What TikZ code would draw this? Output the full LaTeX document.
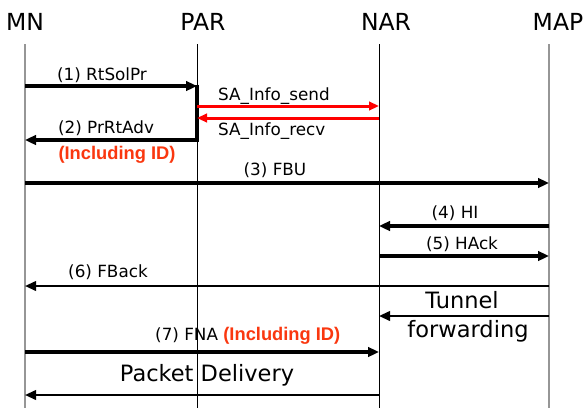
\documentclass[tikz,border=0pt]{standalone}
\usepackage{fontspec}
\setmainfont{DejaVu Sans}
\newfontfamily\idfont{Liberation Sans}
\usetikzlibrary{arrows.meta}
\definecolor{lred}{RGB}{255,0,0}
\definecolor{tred}{RGB}{250,55,15}
\definecolor{lgray}{RGB}{150,150,150}
\newcommand{\redid}{{\idfont\fontsize{18.3}{18}\selectfont\bfseries\textcolor{tred}{(Including ID)}}}
\begin{document}
\begin{tikzpicture}[x=1pt,y=-1pt,
  title/.style={font=\fontsize{23.5}{24}\selectfont,inner sep=0pt,anchor=base},
  lbl/.style={font=\fontsize{16.8}{17}\selectfont,inner sep=0pt,anchor=base},
  big/.style={font=\fontsize{22.5}{23}\selectfont,inner sep=0pt,anchor=base},
  life/.style={line width=1pt,black},
  glife/.style={line width=1.6pt,lgray},
  thk/.style={line width=3.2pt,-{Triangle[length=11pt,width=9.5pt]}},
  thn/.style={line width=2.2pt,-{Triangle[length=11pt,width=9.5pt]}},
  redarr/.style={line width=3pt,lred,-{Triangle[length=10pt,width=8.5pt]}}]
\useasboundingbox (0,0) rectangle (584,408);
\fill[white] (0,0) rectangle (584,408);
% lifeline positions
\coordinate (MN) at (25,0);
\coordinate (PAR) at (197,0);
\coordinate (NAR) at (379,0);
\coordinate (MAP) at (549,0);
% titles
\node[title] (tMN) at (25,30) {MN};
\node[title] (tPAR) at (203,30) {PAR};
\node[title] (tNAR) at (386,30) {NAR};
\node[title] (tMAP) at (558,30) {MAP};
% lifelines
\draw[glife] (MN|-0,44) -- (MN|-0,408);
\draw[life] (PAR|-0,44) -- (PAR|-0,408);
\draw[life] (NAR|-0,44) -- (NAR|-0,408);
\draw[glife] (MAP|-0,44) -- (MAP|-0,408);
% (1)
\draw[thk] (MN|-0,86) -- (PAR|-0,86);
\node[lbl] (l1) at (102,80) {(1) RtSolPr};
\draw[line width=3.2pt] (PAR|-0,84.5) -- (PAR|-0,141.5);
% SA info
\draw[redarr] (PAR|-0,106) -- (NAR|-0,106);
\node[lbl,anchor=base west] (lsend) at (218,100) {SA\_Info\_send};
\draw[redarr] (NAR|-0,118) -- (PAR|-0,118);
\node[lbl,anchor=base west] (lrecv) at (218,135) {SA\_Info\_recv};
% (2)
\draw[thk] (PAR|-0,140) -- (MN|-0,140);
\node[lbl] (l2) at (106,133) {(2) PrRtAdv};
\node[lbl] (l2b) at (117,159) {\redid};
% (3)
\draw[thk] (MN|-0,183) -- (MAP|-0,183);
\node[lbl] (l3) at (275,175) {(3) FBU};
% (4)
\draw[thk] (MAP|-0,226) -- (NAR|-0,226);
\node[lbl] (l4) at (455,218) {(4) HI};
% (5)
\draw[thk] (NAR|-0,256) -- (MAP|-0,256);
\node[lbl] (l5) at (462,249) {(5) HAck};
% (6)
\draw[thn] (MAP|-0,286) -- (MN|-0,286);
\node[lbl] (l6) at (108,277) {(6) FBack};
% tunnel
\draw[thn] (MAP|-0,316) -- (NAR|-0,316);
\node[big] (lt1) at (462,308) {Tunnel};
\node[big] (lt2) at (468,337) {forwarding};
% (7)
\draw[thk] (MN|-0,352) -- (NAR|-0,352);
\node[lbl,anchor=base west] (l7) at (155,340) {(7) FNA \redid};
% packet delivery
\draw[thn] (NAR|-0,395) -- (MN|-0,395);
\node[big] (lpd) at (207,381) {Packet Delivery};
\end{tikzpicture}
\end{document}
